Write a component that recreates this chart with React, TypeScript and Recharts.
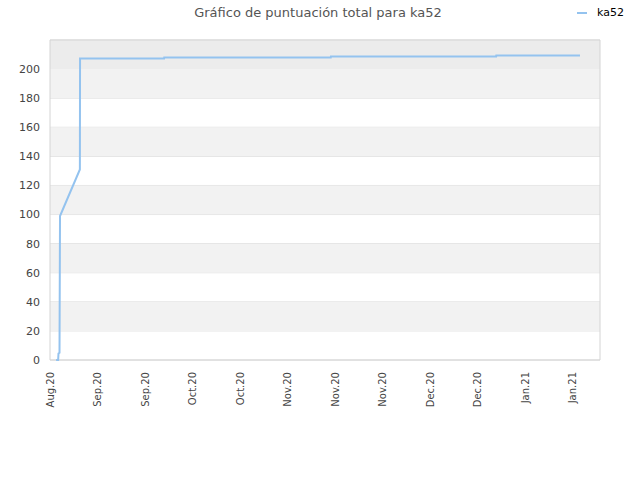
import {
  CartesianGrid,
  Line,
  LineChart,
  ReferenceArea,
  XAxis,
  YAxis,
} from "recharts";

// days since the first x tick (Aug.20)
const days = [1.8, 2.4, 2.5, 2.8, 2.95, 8.8, 8.85, 33.6, 33.65, 82.7, 82.75, 131.4, 131.45, 156.1];
const scores = [0, 0, 4.5, 5, 99, 131, 207.3, 207.3, 208.0, 208.0, 208.7, 208.7, 209.4, 209.4];

const tickDays = [0, 14, 28, 42, 56, 70, 84, 98, 112, 126, 140, 154];
const tickLabels = [
  "Aug.20", "Sep.20", "Sep.20", "Oct.20", "Oct.20", "Nov.20",
  "Nov.20", "Nov.20", "Dec.20", "Dec.20", "Jan.21", "Jan.21",
];
const yTicks = [0, 20, 40, 60, 80, 100, 120, 140, 160, 180, 200];
const shadedBands = [[20, 40], [60, 80], [100, 120], [140, 160], [180, 200]];

const data = days.map((d, i) => ({ day: d, score: scores[i] }));
const lineColor = "#94c3ef";
const font = "DejaVu Sans";

function DateTick({ x, y, payload }: any) {
  const i = tickDays.indexOf(payload.value);
  return (
    <text
      transform={`translate(${x},${y + 4}) rotate(-90)`}
      textAnchor="end"
      dy="0.35em"
      fill="#444"
      fontSize={10}
      fontFamily={font}
    >
      {tickLabels[i] ?? ""}
    </text>
  );
}

export default function App() {
  return (
    <div style={{ position: "absolute", left: 0, top: 0, width: 640, height: 480, background: "#fff" }}>
      <div
        style={{
          position: "absolute", left: 0, width: 636, top: 5, textAlign: "center",
          fontFamily: font, fontSize: 13, color: "#555",
        }}
      >
        Gráfico de puntuación total para ka52
      </div>
      <div style={{ position: "absolute", left: 577, top: 6, display: "flex", alignItems: "center", fontFamily: font, fontSize: 11, color: "#000" }}>
        <span style={{ display: "inline-block", width: 10, height: 2, background: lineColor, marginRight: 10 }} />
        ka52
      </div>
      <LineChart
        width={640}
        height={480}
        data={data}
        margin={{ top: 40, right: 40, bottom: 60, left: 0 }}
      >
        {shadedBands.map(([a, b]) => (
          <ReferenceArea key={a} y1={a} y2={b} fill="#f2f2f2" fillOpacity={1} stroke="none" ifOverflow="visible" />
        ))}
        <ReferenceArea y1={200} y2={220} fill="#ececec" fillOpacity={1} stroke="none" />
        <CartesianGrid vertical={false} stroke="#dedede" />
        <ReferenceArea y1={0} y2={220} fill="none" stroke="#d4d4d4" strokeWidth={1} />
        <XAxis
          dataKey="day"
          type="number"
          domain={[0, 162]}
          ticks={tickDays}
          tick={<DateTick />}
          axisLine={false}
          tickLine={false}
          height={60}
          interval={0}
        />
        <YAxis
          type="number"
          domain={[0, 220]}
          ticks={yTicks}
          tick={{ fill: "#444", fontSize: 11, fontFamily: font }}
          axisLine={false}
          tickLine={false}
          width={50}
          interval={0}
          dx={-2}
        />
        <Line
          type="linear"
          dataKey="score"
          stroke={lineColor}
          strokeWidth={2}
          dot={false}
          isAnimationActive={false}
        />
      </LineChart>
    </div>
  );
}
